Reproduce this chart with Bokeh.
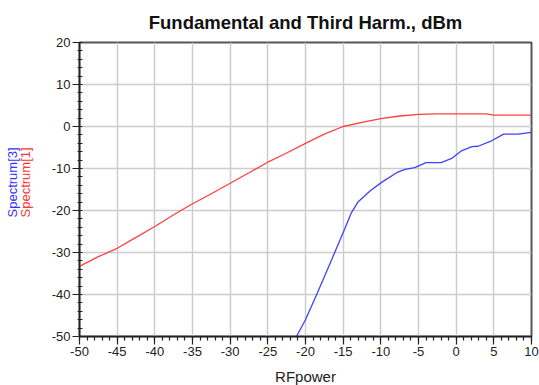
from bokeh.plotting import figure
from bokeh.models import Range1d, FixedTicker, Title
from bokeh.embed import file_html
from bokeh.resources import INLINE

# Fundamental (Spectrum[1]) vs RF power
fund_x = [-50, -47.5, -45, -42.5, -40, -37.5, -35, -32.5, -30, -27.5, -25, -22.5,
          -20, -17.5, -15, -12.5, -10, -7.5, -5, -2.5, 0, 2.5, 4, 5, 7.5, 10]
fund_y = [-33.3, -31.0, -29.0, -26.4, -23.8, -21.0, -18.4, -16.0, -13.5, -11.0, -8.5, -6.3,
          -4.0, -1.8, 0.0, 1.0, 1.9, 2.5, 2.9, 3.0, 3.0, 3.0, 3.0, 2.7, 2.7, 2.7]

# Third harmonic (Spectrum[3]) vs RF power
third_x = [-21.2, -20, -18.4, -16.5, -14.8, -13.9, -13.0, -11.4, -9.9, -7.9, -6.8,
           -5.5, -4.0, -2.0, -0.6, 0.7, 2.1, 2.9, 4.7, 6.3, 8.2, 10]
third_y = [-50.0, -46.0, -39.5, -31.6, -24.4, -20.5, -17.9, -15.3, -13.3, -11.0, -10.2,
           -9.8, -8.6, -8.6, -7.6, -5.8, -4.8, -4.7, -3.4, -1.8, -1.8, -1.4]

x_ticks = [-50, -45, -40, -35, -30, -25, -20, -15, -10, -5, 0, 5, 10]
y_ticks = [-50, -40, -30, -20, -10, 0, 10, 20]

FONT = "Liberation Sans"

p = figure(frame_width=452, frame_height=294, output_backend="svg", toolbar_location=None,
           x_range=Range1d(-50, 10), y_range=Range1d(-50, 20),
           min_border_left=70, min_border_right=9, min_border_top=40, min_border_bottom=51,
           title="Fundamental and Third Harm., dBm")

p.title.text_font = FONT
p.title.text_font_size = "18.5px"
p.title.text_font_style = "bold"
p.title.text_color = "#111111"
p.title.align = "center"
p.title.standoff = 19

p.outline_line_color = "#555555"
p.outline_line_width = 2

p.xaxis.ticker = FixedTicker(ticks=x_ticks, minor_ticks=list(range(-50, 11)))
p.yaxis.ticker = FixedTicker(ticks=y_ticks, minor_ticks=list(range(-50, 21, 2)))
p.xaxis.major_label_overrides = {t: str(t) for t in x_ticks}
p.yaxis.major_label_overrides = {t: str(t) for t in y_ticks}

for ax in (p.xaxis[0], p.yaxis[0]):
    ax.axis_line_color = "#222222"
    ax.axis_line_width = 1.5
    ax.major_tick_line_color = "#222222"
    ax.minor_tick_line_color = "#222222"
    ax.major_tick_line_width = 1.2
    ax.minor_tick_line_width = 1.2
    ax.major_label_text_font = FONT
    ax.major_label_text_font_size = "13px"
    ax.major_label_text_color = "#222222"
    ax.axis_label_text_font = FONT
    ax.axis_label_text_font_style = "normal"
    ax.axis_label_text_font_size = "15px"
    ax.axis_label_text_color = "#222222"

p.xaxis.major_tick_out = 8
p.xaxis.major_tick_in = 0
p.xaxis.minor_tick_out = 4
p.xaxis.minor_tick_in = 0
p.xaxis.major_label_standoff = 2
p.xaxis.axis_label = "RFpower"
p.xaxis.axis_label_standoff = 9

p.yaxis.major_tick_out = 7
p.yaxis.major_tick_in = 0
p.yaxis.minor_tick_out = 2
p.yaxis.minor_tick_in = 3
p.yaxis.major_label_standoff = 2

p.xgrid.grid_line_color = "#cccccc"
p.ygrid.grid_line_color = "#cccccc"
p.xgrid.grid_line_width = 1.5
p.ygrid.grid_line_width = 1.5

p.line(fund_x, fund_y, line_color="#ff4040", line_width=1.3)
p.line(third_x, third_y, line_color="#4040ff", line_width=1.3)

# vertical series names on the left side
p.add_layout(Title(text="Spectrum[1]", text_font=FONT, text_font_size="13px",
                   text_font_style="normal", text_color="#ff3333", align="left",
                   standoff=31, offset=119), "left")
p.add_layout(Title(text="Spectrum[3]", text_font=FONT, text_font_size="13px",
                   text_font_style="normal", text_color="#3333ff", align="left",
                   standoff=-38, offset=119), "left")

open("out.html", "w").write(file_html(p, INLINE))
